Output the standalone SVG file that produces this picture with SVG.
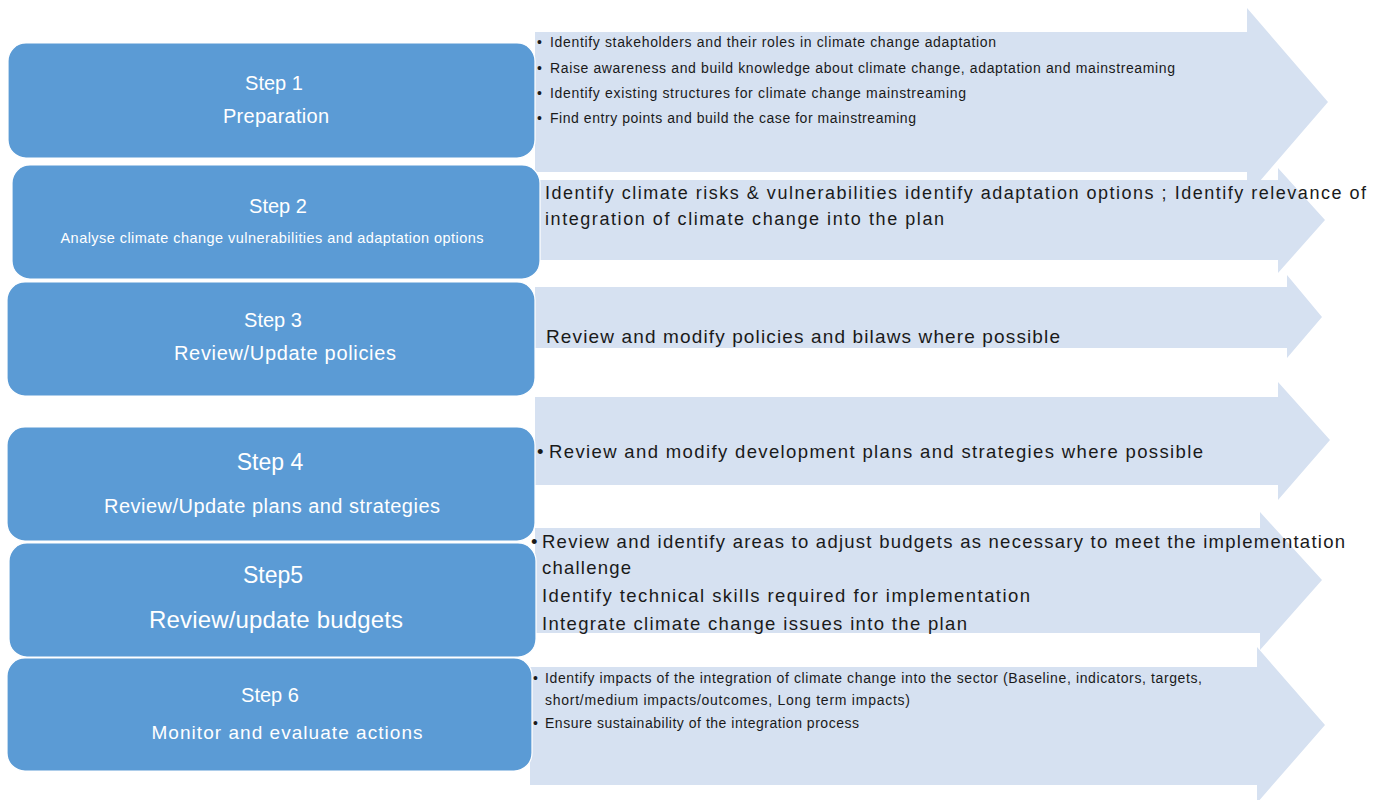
<svg xmlns="http://www.w3.org/2000/svg" width="1374" height="800" viewBox="0 0 1374 800">
<style>
.arrow{fill:#D6E1F1;}
.step{fill:#5B9BD5;stroke:#ffffff;stroke-width:1.2;}
.wt{fill:#ffffff;font-family:"Liberation Sans",Arial,sans-serif;text-anchor:middle;}
.bt{fill:#1a1a1a;font-family:"Liberation Sans",Arial,sans-serif;}
</style>
<rect width="1374" height="800" fill="#ffffff"/>
<g id="connectors">
<polygon class="arrow" points="535,32 1247,32 1247,8 1328,102 1247,196 1247,172 535,172"/>
<polygon class="arrow" points="540,180 1278,180 1278,168 1325,220 1278,273 1278,260 540,260"/>
<polygon class="arrow" points="535,287 1287,287 1287,275 1322,317 1287,358 1287,348 535,348"/>
<polygon class="arrow" points="535,397 1278,397 1278,382 1330,440 1278,500 1278,485 535,485"/>
<polygon class="arrow" points="535,528 1260,528 1260,512 1322,580 1260,650 1260,633 535,633"/>
<polygon class="arrow" points="530,667 1257,667 1257,647 1325,725 1257,803 1257,785 530,785"/>
</g>
<g id="step1">
<rect class="step" x="8" y="43" width="527" height="115" rx="18"/>
<text class="wt" x="274" y="90" font-size="20">Step 1</text>
<text class="wt" x="276" y="123" font-size="20" textLength="106">Preparation</text>
</g>
<g id="step2">
<rect class="step" x="12" y="165" width="528" height="114" rx="18"/>
<text class="wt" x="278" y="213" font-size="20">Step 2</text>
<text class="wt" x="272" y="243" font-size="14.5" textLength="423">Analyse climate change vulnerabilities and adaptation options</text>
</g>
<g id="step3">
<rect class="step" x="7" y="282" width="528" height="114" rx="18"/>
<text class="wt" x="273" y="327" font-size="20">Step 3</text>
<text class="wt" x="285" y="360" font-size="20" textLength="222">Review/Update policies</text>
</g>
<g id="step4">
<rect class="step" x="7" y="427" width="528" height="114" rx="18"/>
<text class="wt" x="270" y="470" font-size="23">Step 4</text>
<text class="wt" x="272" y="513" font-size="20" textLength="336">Review/Update plans and strategies</text>
</g>
<g id="step5">
<rect class="step" x="9" y="543" width="527" height="114" rx="18"/>
<text class="wt" x="273" y="583" font-size="23">Step5</text>
<text class="wt" x="276" y="628" font-size="24" textLength="254">Review/update budgets</text>
</g>
<g id="step6">
<rect class="step" x="7" y="658" width="525" height="113" rx="18"/>
<text class="wt" x="270" y="702" font-size="20">Step 6</text>
<text class="wt" x="287" y="739" font-size="19" textLength="271">Monitor and evaluate actions</text>
</g>
<g id="text1" font-size="14">
<text class="bt" x="537" y="47">•</text><text class="bt" x="550" y="47" textLength="446">Identify stakeholders and their roles in climate change adaptation</text>
<text class="bt" x="537" y="73">•</text><text class="bt" x="550" y="73" textLength="625">Raise awareness and build knowledge about climate change, adaptation and mainstreaming</text>
<text class="bt" x="537" y="98">•</text><text class="bt" x="550" y="98" textLength="416">Identify existing structures for climate change mainstreaming</text>
<text class="bt" x="537" y="123">•</text><text class="bt" x="550" y="123" textLength="366">Find entry points and build the case for mainstreaming</text>
</g>
<g id="text2" font-size="18">
<text class="bt" x="545" y="199" textLength="821">Identify climate risks &amp; vulnerabilities identify adaptation options ; Identify relevance of</text>
<text class="bt" x="545" y="225" textLength="399">integration of climate change into the plan</text>
</g>
<g id="text3" font-size="19">
<text class="bt" x="546" y="343" textLength="514">Review and modify policies and bilaws where possible</text>
</g>
<g id="text4" font-size="18.5">
<text class="bt" x="537" y="458">•</text><text class="bt" x="549" y="458" textLength="654">Review and modify development plans and strategies where possible</text>
</g>
<g id="text5" font-size="18.5">
<text class="bt" x="531" y="548">•</text><text class="bt" x="542" y="548" textLength="803">Review and identify areas to adjust budgets as necessary to meet the implementation</text>
<text class="bt" x="542" y="574" textLength="89">challenge</text>
<text class="bt" x="542" y="602" textLength="488">Identify technical skills required for implementation</text>
<text class="bt" x="542" y="630" textLength="425">Integrate climate change issues into the plan</text>
</g>
<g id="text6" font-size="14">
<text class="bt" x="533" y="683">•</text><text class="bt" x="545" y="683" textLength="657">Identify impacts of the integration of climate change into the sector (Baseline, indicators, targets,</text>
<text class="bt" x="545" y="705" textLength="365">short/medium impacts/outcomes, Long term impacts)</text>
<text class="bt" x="533" y="728">•</text><text class="bt" x="545" y="728" textLength="314">Ensure sustainability of the integration process</text>
</g>
</svg>
